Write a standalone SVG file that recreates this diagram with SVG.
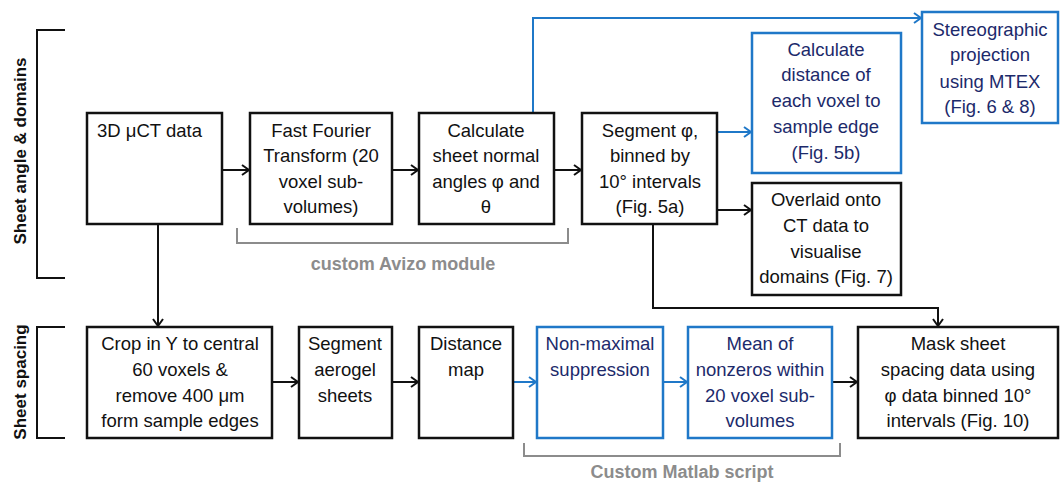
<svg xmlns="http://www.w3.org/2000/svg" width="1063" height="484" viewBox="0 0 1063 484">
<style>
.bk{fill:#fff;stroke:#111;stroke-width:2.5}
.bl{fill:#fff;stroke:#1f78c8;stroke-width:2.5}
.t{font-family:"Liberation Sans",Arial,sans-serif;font-size:18.5px;fill:#111;text-anchor:middle}
.tb{font-family:"Liberation Sans",Arial,sans-serif;font-size:18.5px;fill:#1c2a6b;text-anchor:middle}
.c{fill:none;stroke:#111;stroke-width:2}
.cb{fill:none;stroke:#1f78c8;stroke-width:2}
.g{fill:none;stroke:#8c8c8c;stroke-width:2}
.gt{font-family:"Liberation Sans",Arial,sans-serif;font-size:18px;font-weight:bold;fill:#8c8c8c;text-anchor:middle}
.sec{font-family:"Liberation Sans",Arial,sans-serif;font-size:17px;font-weight:bold;fill:#111;text-anchor:middle}
</style>
<defs>
<marker id="ak" markerWidth="10" markerHeight="12" refX="9" refY="6" orient="auto" markerUnits="userSpaceOnUse"><path d="M2,1 L9,6 L2,11" fill="none" stroke="#111" stroke-width="2"/></marker>
<marker id="ab" markerWidth="10" markerHeight="12" refX="9" refY="6" orient="auto" markerUnits="userSpaceOnUse"><path d="M2,1 L9,6 L2,11" fill="none" stroke="#1f78c8" stroke-width="2"/></marker>
</defs>
<g id="sections">
<path class="c" d="M65,30 H37 V278 H65"/>
<text class="sec" transform="translate(26,151) rotate(-90)">Sheet angle &amp; domains</text>
<path class="c" d="M65,327 H37 V438 H65"/>
<text class="sec" transform="translate(26,382) rotate(-90)">Sheet spacing</text>
</g>
<g id="braces">
<path class="g" d="M237,228 V243 H568 V228"/>
<text class="gt" x="403" y="270">custom Avizo module</text>
<path class="g" d="M524,443 V456 H840 V443"/>
<text class="gt" x="682" y="478">Custom Matlab script</text>
</g>
<g id="connectors">
<path class="c" d="M222,170 H249" marker-end="url(#ak)"/>
<path class="c" d="M392,170 H418" marker-end="url(#ak)"/>
<path class="c" d="M554,170 H581" marker-end="url(#ak)"/>
<path class="cb" d="M533,113 V18 H921" marker-end="url(#ab)"/>
<path class="cb" d="M717,132 H751" marker-end="url(#ab)"/>
<path class="c" d="M717,210 H751" marker-end="url(#ak)"/>
<path class="c" d="M653,224 V308 H938 V326" marker-end="url(#ak)"/>
<path class="c" d="M158,224 V326" marker-end="url(#ak)"/>
<path class="c" d="M272,382 H298" marker-end="url(#ak)"/>
<path class="c" d="M392,382 H418" marker-end="url(#ak)"/>
<path class="cb" d="M513,382 H536" marker-end="url(#ab)"/>
<path class="cb" d="M663,382 H687" marker-end="url(#ab)"/>
<path class="c" d="M832,382 H857" marker-end="url(#ak)"/>
</g>
<g id="n1"><rect class="bk" x="87" y="113" width="135" height="111"/><text class="t" x="97" y="137" style="text-anchor:start">3D μCT data</text></g>
<g id="n2"><rect class="bk" x="250" y="113" width="142" height="111"/><text class="t" x="321" y="137">Fast Fourier</text><text class="t" x="321" y="162">Transform (20</text><text class="t" x="321" y="188">voxel sub-</text><text class="t" x="321" y="213">volumes)</text></g>
<g id="n3"><rect class="bk" x="419" y="113" width="135" height="111"/><text class="t" x="486" y="137">Calculate</text><text class="t" x="486" y="162">sheet normal</text><text class="t" x="486" y="188">angles φ and</text><text class="t" x="486" y="213">θ</text></g>
<g id="n4"><rect class="bk" x="582" y="113" width="135" height="111"/><text class="t" x="650" y="137">Segment φ,</text><text class="t" x="650" y="162">binned by</text><text class="t" x="650" y="188">10° intervals</text><text class="t" x="650" y="213">(Fig. 5a)</text></g>
<g id="n5"><rect class="bl" x="752" y="33" width="149" height="140"/><text class="tb" x="826" y="56">Calculate</text><text class="tb" x="826" y="81">distance of</text><text class="tb" x="826" y="107">each voxel to</text><text class="tb" x="826" y="133">sample edge</text><text class="tb" x="826" y="159">(Fig. 5b)</text></g>
<g id="n6"><rect class="bl" x="922" y="12" width="136" height="111"/><text class="tb" x="990" y="36">Stereographic</text><text class="tb" x="990" y="61">projection</text><text class="tb" x="990" y="88">using MTEX</text><text class="tb" x="990" y="113">(Fig. 6 &amp; 8)</text></g>
<g id="n7"><rect class="bk" x="752" y="183" width="149" height="112"/><text class="t" x="826" y="206">Overlaid onto</text><text class="t" x="826" y="232">CT data to</text><text class="t" x="826" y="258">visualise</text><text class="t" x="826" y="283">domains (Fig. 7)</text></g>
<g id="n8"><rect class="bk" x="87" y="327" width="185" height="111"/><text class="t" x="180" y="350">Crop in Y to central</text><text class="t" x="180" y="376">60 voxels &amp;</text><text class="t" x="180" y="402">remove 400 μm</text><text class="t" x="180" y="427">form sample edges</text></g>
<g id="n9"><rect class="bk" x="299" y="327" width="93" height="111"/><text class="t" x="345" y="350">Segment</text><text class="t" x="345" y="376">aerogel</text><text class="t" x="345" y="402">sheets</text></g>
<g id="n10"><rect class="bk" x="419" y="327" width="94" height="111"/><text class="t" x="466" y="350">Distance</text><text class="t" x="466" y="376">map</text></g>
<g id="n11"><rect class="bl" x="537" y="327" width="126" height="111"/><text class="tb" x="600" y="350">Non-maximal</text><text class="tb" x="600" y="376">suppression</text></g>
<g id="n12"><rect class="bl" x="688" y="327" width="144" height="111"/><text class="tb" x="760" y="350">Mean of</text><text class="tb" x="760" y="376">nonzeros within</text><text class="tb" x="760" y="402">20 voxel sub-</text><text class="tb" x="760" y="427">volumes</text></g>
<g id="n13"><rect class="bk" x="858" y="327" width="200" height="111"/><text class="t" x="958" y="350">Mask sheet</text><text class="t" x="958" y="376">spacing data using</text><text class="t" x="958" y="402">φ data binned 10°</text><text class="t" x="958" y="427">intervals (Fig. 10)</text></g>
</svg>
